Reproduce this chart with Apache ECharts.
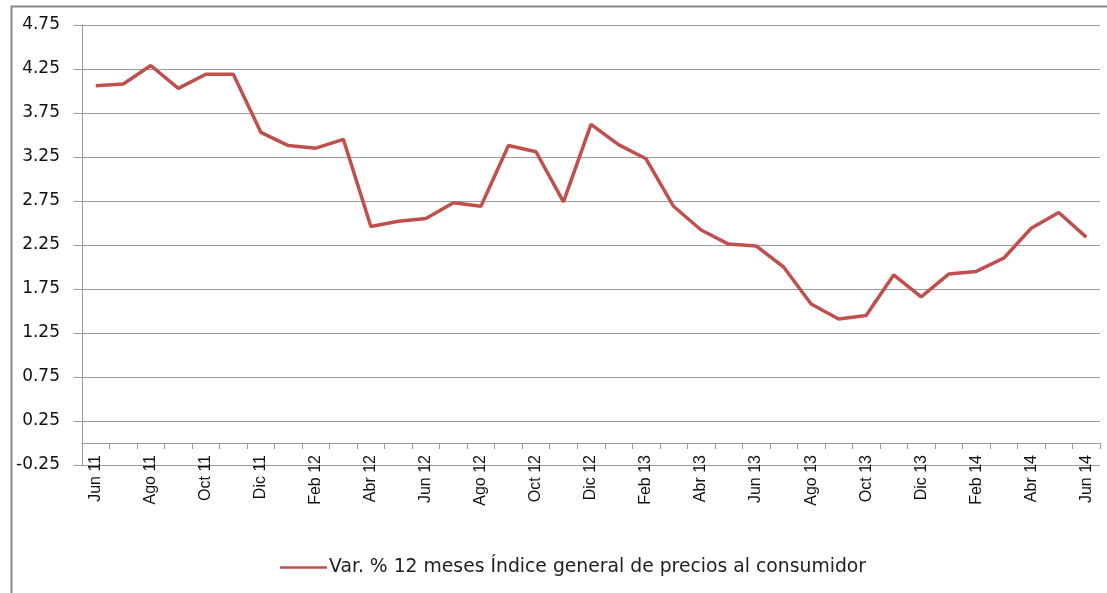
<!DOCTYPE html>
<html>
<head>
<meta charset="utf-8">
<script src="https://cdn.jsdelivr.net/npm/echarts@6/dist/echarts.min.js"></script>
<style>
html,body{margin:0;padding:0;background:#fff;}
#chart{width:1107px;height:593px;}
</style>
</head>
<body>
<div id="chart"></div>
<script>
var categories = ['Jun 11','Jul 11','Ago 11','Sep 11','Oct 11','Nov 11','Dic 11','Ene 12','Feb 12','Mar 12','Abr 12','May 12','Jun 12','Jul 12','Ago 12','Sep 12','Oct 12','Nov 12','Dic 12','Ene 13','Feb 13','Mar 13','Abr 13','May 13','Jun 13','Jul 13','Ago 13','Sep 13','Oct 13','Nov 13','Dic 13','Ene 14','Feb 14','Mar 14','Abr 14','May 14','Jun 14'];
var ipcValues = [4.06,4.08,4.29,4.03,4.19,4.19,3.53,3.38,3.35,3.45,2.46,2.52,2.55,2.73,2.69,3.38,3.31,2.74,3.62,3.39,3.23,2.69,2.42,2.26,2.24,2.00,1.58,1.41,1.45,1.91,1.66,1.92,1.95,2.10,2.44,2.62,2.34];
var seriesName = 'Var. % 12 meses Índice general de precios al consumidor';
var yMin = -0.25, yMax = 4.75, yStep = 0.5;

var chart = echarts.init(document.getElementById('chart'), null, {renderer:'canvas'});
chart.setOption({
  animation:false,
  backgroundColor:'#fff',
  graphic:[{
    type:'rect', left:9, top:4, silent:true,
    shape:{x:0,y:0,width:1200,height:700},
    style:{fill:'none', stroke:'#8a8a8a', lineWidth:2}
  }],
  grid:{left:82, right:7, top:25, bottom:128, containLabel:false},
  legend:{
    top:558, left:280, padding:0,
    itemWidth:47, itemHeight:10, itemGap:10,
    icon:'path://M0,4 L47,4 L47,6.5 L0,6.5 Z',
    textStyle:{fontFamily:'DejaVu Sans', fontSize:18.8, color:'#222', padding:[0,0,0,-3]},
    data:[seriesName]
  },
  xAxis:{
    type:'category', data:categories, boundaryGap:true,
    axisLine:{onZero:true, lineStyle:{color:'#9a9a9a', width:1}},
    axisTick:{show:true, alignWithLabel:false, interval:0, length:6, lineStyle:{color:'#9a9a9a'}},
    axisLabel:{interval:1, rotate:90, margin:-10, color:'#111', fontSize:16, fontFamily:'Liberation Sans'},
    splitLine:{show:false}
  },
  yAxis:{
    type:'value', min:yMin, max:yMax, interval:yStep,
    axisLine:{show:true, lineStyle:{color:'#9a9a9a', width:1}},
    axisTick:{show:true, length:8, lineStyle:{color:'#9a9a9a'}},
    axisLabel:{margin:22, color:'#111', fontSize:17, fontFamily:'DejaVu Sans',
      formatter:function(v){return v.toFixed(2);}},
    splitLine:{show:true, lineStyle:{color:'#9a9a9a', width:1}}
  },
  series:[{
    name:seriesName, type:'line', data:ipcValues,
    showSymbol:false, symbol:'none',
    lineStyle:{color:'#C0504D', width:3.5},
    itemStyle:{color:'#C0504D'}
  }]
});
</script>
</body>
</html>
